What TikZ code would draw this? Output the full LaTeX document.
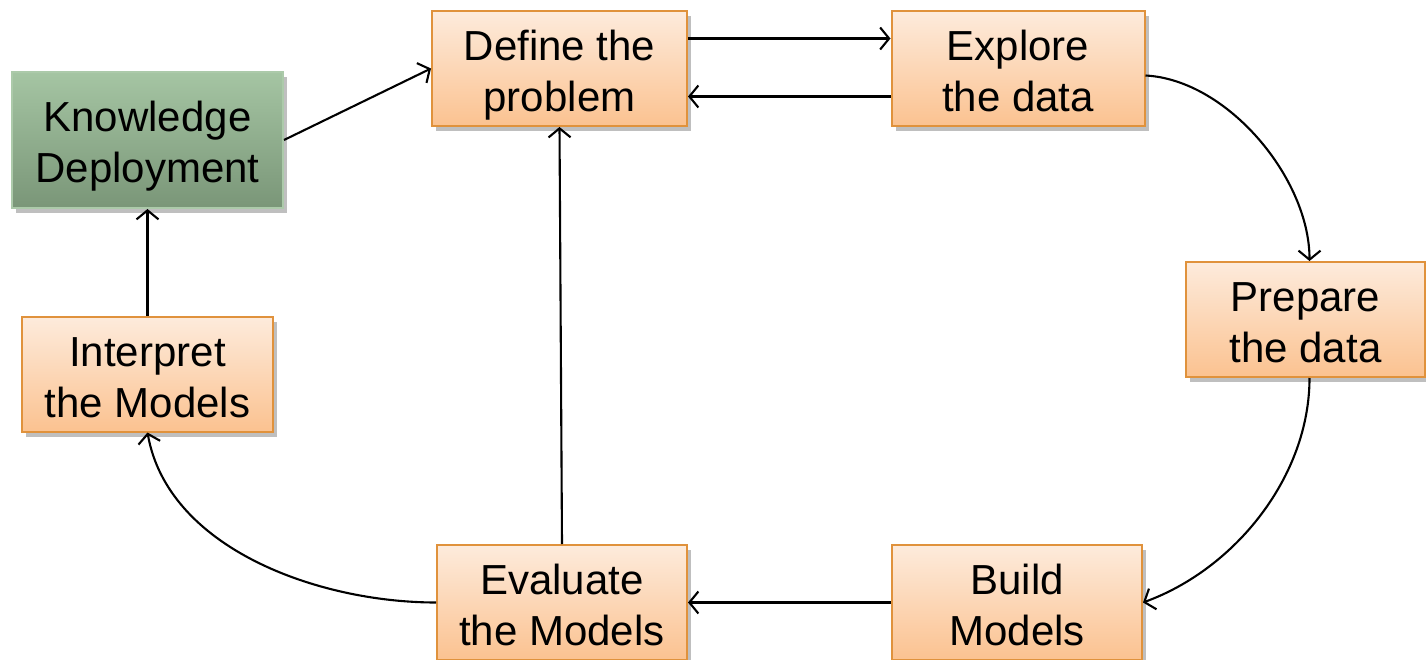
\documentclass[tikz,border=0pt]{standalone}
\usepackage{fontspec}
\setmainfont{Liberation Sans}
\usetikzlibrary{arrows.meta,shadows}
\definecolor{boxtop}{RGB}{253,235,220}
\definecolor{boxbot}{RGB}{251,194,144}
\definecolor{boxline}{RGB}{224,146,60}
\definecolor{gtop}{RGB}{165,197,163}
\definecolor{gbot}{RGB}{122,150,120}
\definecolor{gline}{RGB}{172,202,170}
\tikzset{
  procbox/.style={draw=boxline, line width=2pt, top color=boxtop, bottom color=boxbot,
    minimum width=251pt, minimum height=115pt, align=center, inner sep=0pt,
    font=\fontsize{42}{51}\selectfont, text height=94pt, text depth=8pt,
    drop shadow={shadow xshift=4pt, shadow yshift=-5pt, opacity=0.25, fill=black}},
  greenbox/.style={procbox, draw=gline, top color=gtop, bottom color=gbot,
    minimum width=271pt, minimum height=136pt},
  conn/.style={line width=2.1pt, -{Straight Barb[length=9pt,width=22pt,line width=2.1pt]}}
}
\begin{document}
\begin{tikzpicture}[x=1pt,y=-1pt]
\useasboundingbox (0,0) rectangle (1426,660);
\node[greenbox] (know) at (147.5,140) {Knowledge\\Deployment};
\node[procbox, minimum width=255pt] (define) at (559.5,68.5) {Define the\\problem};
\node[procbox, minimum width=253pt] (explore) at (1018,68.5) {Explore\\the data};
\node[procbox, minimum width=239pt] (prepare) at (1305.5,319.5) {Prepare\\the data};
\node[procbox, minimum width=250pt] (build) at (1017,602.5) {Build\\Models};
\node[procbox, minimum width=250pt] (evaluate) at (562,602.5) {Evaluate\\the Models};
\node[procbox, minimum width=251pt] (interpret) at (147.5,374) {Interpret\\the Models};

\draw[conn] (know.east) -- (define.west);
\draw[conn] ([yshift=30pt]define.east) -- ([yshift=30pt]explore.west);
\draw[conn] ([yshift=-28pt]explore.west) -- ([yshift=-28pt]define.east);
\draw[conn] ([yshift=-7pt]explore.east) to[out=-3,in=90,looseness=0.85] ([xshift=4pt]prepare.north);
\draw[conn] ([xshift=4pt]prepare.south) to[out=-90,in=20,looseness=0.9] (build.east);
\draw[conn] (build.west) -- (evaluate.east);
\draw[conn] (evaluate.north) -- (define.south);
\draw[conn] (evaluate.west) to[out=180,in=-80,looseness=0.9] (interpret.south);
\draw[conn] (interpret.north) -- (know.south);
\end{tikzpicture}
\end{document}
